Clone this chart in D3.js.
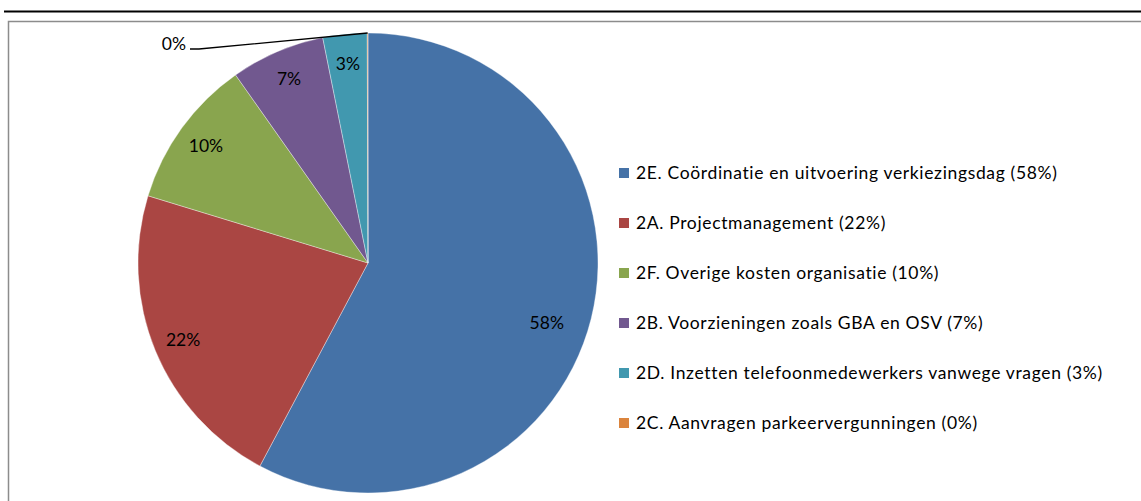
<!DOCTYPE html>
<html>
<head>
<meta charset="utf-8">
<script src="https://cdn.jsdelivr.net/npm/d3@7"></script>
<style>
  html, body { margin: 0; padding: 0; background: #fff; }
  svg { display: block; font-family: Lato, "Open Sans", sans-serif; }
</style>
</head>
<body>
<div id="chart"></div>
<script>
// slices, clockwise from 12 o'clock
var categories = [
    "2E. Coördinatie en uitvoering verkiezingsdag",
    "2A. Projectmanagement",
    "2F. Overige kosten organisatie",
    "2B. Voorzieningen zoals GBA en OSV",
    "2D. Inzetten telefoonmedewerkers vanwege vragen",
    "2C. Aanvragen parkeervergunningen"
];
var values = [57.7, 21.9, 10.5, 6.6, 3.1, 0.05];
var labels = ["58%", "22%", "10%", "7%", "3%", "0%"];
var colors = ["#4572A7", "#AA4643", "#89A54E", "#71588F", "#4198AF", "#DB843D"];

var width = 1141, height = 501;
var cx = 368, cy = 263, radius = 230;

var svg = d3.select("#chart").append("svg")
    .attr("width", width)
    .attr("height", height);

//**************************************************************************
//** Frame
//**************************************************************************
svg.append("line")
    .attr("x1", 4).attr("x2", width)
    .attr("y1", 11.5).attr("y2", 11.5)
    .attr("stroke", "#000")
    .attr("stroke-width", 2.2);

svg.append("rect")
    .attr("x", 8.5).attr("y", 21.5)
    .attr("width", width + 20).attr("height", height + 20)
    .attr("fill", "none")
    .attr("stroke", "#8c8c8c")
    .attr("stroke-width", 1.5);

//**************************************************************************
//** Pie
//**************************************************************************
var data = categories.map(function(c, i){
    return { name: c, value: values[i], label: labels[i], color: colors[i] };
});

var pie = d3.pie().value(function(d){ return d.value; }).sort(null);
var arcs = pie(data);

var arc = d3.arc().innerRadius(0).outerRadius(radius);
var labelArc = d3.arc().innerRadius(radius * 0.87).outerRadius(radius * 0.87);

var pieArea = svg.append("g").attr("transform", "translate(" + cx + "," + cy + ")");

pieArea.selectAll("path")
    .data(arcs)
    .enter()
    .append("path")
    .attr("d", arc)
    .attr("fill", function(d){ return d.data.color; })
    .attr("stroke", "rgba(255,255,255,0.6)")
    .attr("stroke-width", 0.6);

arcs.forEach(function(d, i){
    var small = (d.endAngle - d.startAngle) < 0.05;
    if (small){
        // leader line for the tiny slice
        var mid = (d.startAngle + d.endAngle) / 2;
        var ex = Math.sin(mid) * radius, ey = -Math.cos(mid) * radius;
        var lx = -178, ly = -214;
        pieArea.append("polyline")
            .attr("points", [[lx, ly], [lx + 9, ly], [ex, ey]].map(function(p){ return p.join(","); }).join(" "))
            .attr("fill", "none")
            .attr("stroke", "#000")
            .attr("stroke-width", 1.3);
        pieArea.append("text")
            .attr("x", lx - 4).attr("y", ly + 1)
            .attr("text-anchor", "end")
            .attr("font-size", 17.5)
            .attr("fill", "#000")
            .text(d.data.label);
        return;
    }
    var c = labelArc.centroid(d);
    if (i === 0) c = d3.arc().innerRadius(radius * 0.82).outerRadius(radius * 0.82).centroid({startAngle: d.startAngle + 0.08, endAngle: d.endAngle + 0.08});
    pieArea.append("text")
        .attr("x", c[0]).attr("y", c[1])
        .attr("text-anchor", "middle")
        .attr("dy", "0.35em")
        .attr("font-size", 17.5)
        .attr("fill", "#000")
        .text(d.data.label);
});

//**************************************************************************
//** Legend
//**************************************************************************
var legend = svg.append("g").attr("transform", "translate(619,173)");
var rowH = 50;

var rows = legend.selectAll("g")
    .data(data)
    .enter()
    .append("g")
    .attr("transform", function(d, i){ return "translate(0," + (i * rowH) + ")"; });

rows.append("rect")
    .attr("x", 0).attr("y", -5)
    .attr("width", 10).attr("height", 10)
    .attr("fill", function(d){ return d.color; });

rows.append("text")
    .attr("x", 17).attr("y", 0)
    .attr("dy", "0.36em")
    .attr("font-size", 17.5)
    .attr("letter-spacing", 0.65)
    .attr("fill", "#000")
    .text(function(d){ return d.name + " (" + d.label + ")"; });
</script>
</body>
</html>
